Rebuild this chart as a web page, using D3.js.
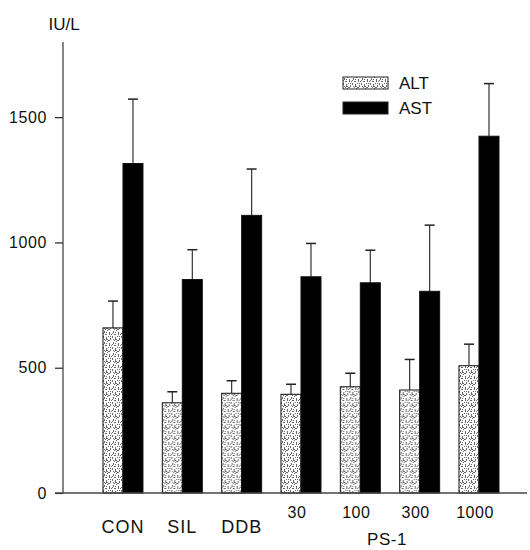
<!DOCTYPE html>
<html>
<head>
<meta charset="utf-8">
<script src="https://cdn.jsdelivr.net/npm/d3@7"></script>
<style>
  html, body { margin: 0; padding: 0; background: #fff; }
  svg { display: block; }
  text { font-family: "Liberation Sans", Arial, sans-serif; fill: #111; }
</style>
</head>
<body>
<svg id="chart" width="530" height="550"></svg>
<script>
const categories = ["CON", "SIL", "DDB", "30", "100", "300", "1000"];
const series = ["ALT", "AST"];
const altMean = [659, 360, 398, 394, 424, 411, 508];
const altSD   = [107, 44, 50, 40, 54, 122, 86];
const astMean = [1315, 852, 1108, 863, 839, 805, 1424];
const astSD   = [257, 119, 185, 133, 130, 264, 210];
const yTicks  = [0, 500, 1000, 1500];
const unitLabel = "IU/L";
const groupLabel = "PS-1";

const svg = d3.select("#chart");

// pattern for ALT (stippled)
const defs = svg.append("defs");
const pat = defs.append("pattern")
  .attr("id", "stipple").attr("patternUnits", "userSpaceOnUse")
  .attr("width", 9).attr("height", 11);
pat.append("rect").attr("width", 9).attr("height", 11).attr("fill", "#fff");
const marks = [[1,1,1,2],[4,0,1,1],[6,2,1,3],[2,4,2,1],[0,6,1,2],[5,6,1,1],[3,7,1,3],[7,8,1,2],[1,9,1,1],[5,10,2,1],[8,4,1,1],[3,2,1,1],[7,6,1,1],[0,3,1,1],[4,9,1,1],[2,10,1,1]];
marks.forEach(m => pat.append("rect").attr("x", m[0]).attr("y", m[1]).attr("width", m[2]).attr("height", m[3]).attr("fill", "#666"));

const y = d3.scaleLinear().domain([0, 1800]).range([493, 42]);
const x0 = d3.scaleBand().domain(categories).range([63, 527])
  .paddingInner(0.326).paddingOuter(0.573).align(0.588);
const x1 = d3.scaleBand().domain(series).range([0, x0.bandwidth()]).padding(0);

const data = categories.map((c, i) => ({
  cat: c,
  vals: [
    { s: "ALT", m: altMean[i], sd: altSD[i] },
    { s: "AST", m: astMean[i], sd: astSD[i] }
  ]
}));

const g = svg.append("g");
const groups = g.selectAll("g.grp").data(data).join("g")
  .attr("transform", d => `translate(${x0(d.cat)},0)`);

// error bars (behind bars)
groups.selectAll("g.err").data(d => d.vals).join("g").each(function(d) {
  const cx = x1(d.s) + x1.bandwidth() / 2;
  const sel = d3.select(this);
  sel.append("line").attr("x1", cx).attr("x2", cx)
    .attr("y1", y(d.m)).attr("y2", y(d.m + d.sd))
    .attr("stroke", "#333").attr("stroke-width", 1.2);
  sel.append("line").attr("x1", cx - 5).attr("x2", cx + 5)
    .attr("y1", y(d.m + d.sd)).attr("y2", y(d.m + d.sd))
    .attr("stroke", "#222").attr("stroke-width", 1.5);
});

groups.selectAll("rect.bar").data(d => d.vals).join("rect")
  .attr("class", "bar")
  .attr("x", d => x1(d.s))
  .attr("width", x1.bandwidth())
  .attr("y", d => y(d.m))
  .attr("height", d => y(0) - y(d.m))
  .attr("fill", d => d.s === "ALT" ? "url(#stipple)" : "#000")
  .attr("stroke", "#111").attr("stroke-width", 1);

// axes
const yAxis = d3.axisLeft(y).tickValues(yTicks).tickFormat(d3.format("d")).tickSize(8).tickPadding(8);
const ya = svg.append("g").attr("transform", "translate(63,0)").call(yAxis);
ya.select(".domain").remove();
ya.selectAll(".tick line").attr("stroke", "#222").attr("stroke-width", 1.2);
ya.selectAll(".tick text").style("font-size", "16px").style("letter-spacing", "0.6px")
  .style("font-family", "'Liberation Sans', Arial, sans-serif").attr("fill", "#111");
svg.append("line").attr("x1", 63).attr("x2", 63).attr("y1", y.range()[1]).attr("y2", y(0))
  .attr("stroke", "#444").attr("stroke-width", 1.3);
svg.append("line").attr("x1", 55).attr("x2", 527).attr("y1", y(0)).attr("y2", y(0))
  .attr("stroke", "#444").attr("stroke-width", 1.3);

// unit label
svg.append("text").attr("x", 64).attr("y", 30).attr("text-anchor", "middle")
  .style("font-size", "17px").text(unitLabel);

// category labels
const xc = d => x0(d) + x0.bandwidth() / 2;
categories.forEach((c, i) => {
  const isDose = i >= 3;
  svg.append("text")
    .attr("x", xc(c) - (isDose ? 4 : 0))
    .attr("y", isDose ? 518 : 533)
    .attr("text-anchor", "middle")
    .style("font-size", isDose ? "16px" : "18px")
    .style("letter-spacing", isDose ? "0.5px" : "1px")
    .text(c);
});
svg.append("text").attr("x", (xc("100") + xc("300")) / 2 - 3).attr("y", 545)
  .attr("text-anchor", "middle").style("font-size", "17px").style("letter-spacing", "0.5px").text(groupLabel);

// legend
const leg = svg.append("g").attr("transform", "translate(343,77)");
series.forEach((s, i) => {
  const row = leg.append("g").attr("transform", `translate(0,${i * 25})`);
  row.append("rect").attr("width", 45).attr("height", 12)
    .attr("fill", s === "ALT" ? "url(#stipple)" : "#000")
    .attr("stroke", "#222").attr("stroke-width", 1);
  row.append("text").attr("x", 56).attr("y", 6).attr("dy", "0.36em")
    .style("font-size", "17px").text(s);
});
</script>
</body>
</html>
